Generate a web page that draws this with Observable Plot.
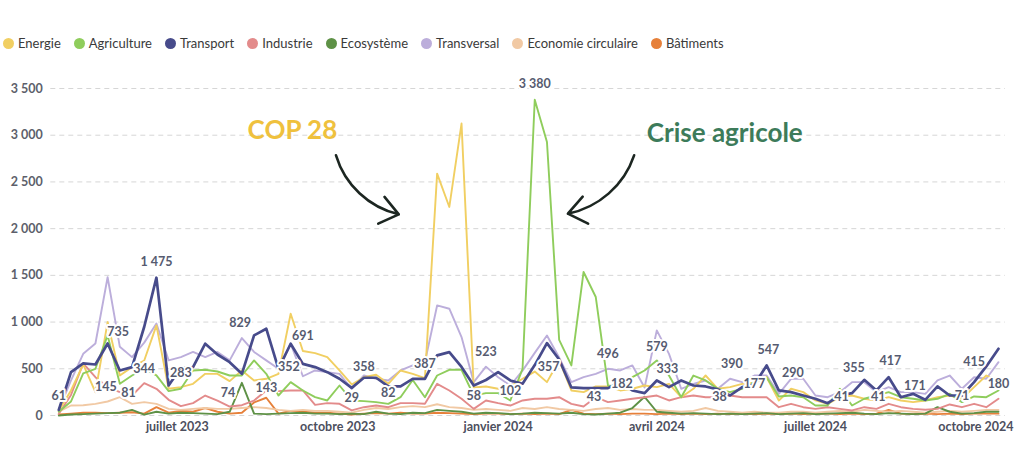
<!DOCTYPE html>
<html><head><meta charset="utf-8">
<script src="https://cdn.jsdelivr.net/npm/d3@7"></script>
<script src="https://cdn.jsdelivr.net/npm/@observablehq/plot@0.6"></script>
<style>
body{margin:0;background:#fff;font-family:Lato,sans-serif;}
#legend{height:52px;box-sizing:border-box;padding:34px 0 0 3px;display:flex;align-items:center;font-size:13px;color:#3a3a3a;line-height:18px;white-space:nowrap}
.item{display:flex;align-items:center;margin-right:13px}
.sw{width:11px;height:11px;border-radius:50%;margin-right:4px;flex:none}
</style></head><body>
<div id="legend"></div>
<div id="chart"></div>
<script>
const seriesNames = ["Energie","Agriculture","Transport","Industrie","Ecosystème","Transversal","Economie circulaire","Bâtiments"];
const seriesColors = ["#f1cf62","#8fcd5c","#474b8b","#e38b8b","#5e9146","#bcaedb","#f1c9a4","#e6803a"];
const drawOrder = ["Bâtiments","Economie circulaire","Ecosystème","Industrie","Transversal","Energie","Agriculture","Transport"];
const firstWeek = "2023-04-24";

const energie = [50,268,546,250,1000,428,518,589,964,286,304,339,446,446,368,482,375,393,446,1089,691,668,625,482,332,410,436,339,482,446,400,2589,2232,3125,300,311,286,311,393,470,357,589,268,250,311,311,268,286,321,304,339,196,286,428,286,304,339,350,410,161,286,250,161,125,196,214,179,161,196,161,143,161,196,214,179,304,428,375];
const agriculture = [40,150,450,500,857,339,428,500,430,261,286,482,489,471,428,428,589,446,214,357,268,196,161,321,161,154,143,125,196,380,196,428,489,489,214,239,239,161,500,3380,2928,810,536,1536,1268,321,304,410,482,589,428,196,428,375,286,250,286,357,410,204,214,196,107,107,286,107,179,214,250,196,179,161,179,232,143,204,196,268];
const transport = [60,464,557,546,771,482,518,950,1475,321,510,518,768,653,571,446,857,929,500,768,553,518,464,393,296,404,404,311,311,393,393,643,678,520,321,380,464,375,340,540,775,600,300,293,293,293,357,268,239,375,304,375,321,311,280,214,304,330,536,268,250,214,179,132,214,239,382,268,410,196,232,168,311,214,214,357,525,714];
const industrie = [18,220,557,410,304,250,214,346,286,168,100,132,214,160,96,110,160,268,261,268,268,114,132,125,54,89,107,89,132,132,125,339,268,179,71,161,132,107,161,179,179,196,125,96,196,143,161,179,196,214,161,196,214,196,196,214,196,196,196,89,125,89,71,89,71,54,89,71,125,89,71,61,71,118,89,125,89,179];
const ecosysteme = [0,10,15,20,25,30,60,10,40,20,30,25,20,15,40,350,20,15,20,25,30,20,20,15,20,15,40,20,15,30,25,60,50,40,20,30,25,15,20,30,25,20,30,15,10,20,30,80,200,40,30,20,25,20,15,20,15,20,25,15,20,25,15,20,25,30,20,15,25,20,15,20,89,40,20,25,40,40];
const transversal = [60,375,660,771,1480,735,625,780,985,590,625,680,625,680,590,829,680,590,500,768,420,482,464,446,286,428,393,375,482,536,571,1178,1143,839,357,523,410,321,480,670,857,620,357,410,446,500,482,536,300,911,660,286,339,375,286,393,357,428,428,232,393,393,214,196,250,357,357,250,304,250,250,232,375,428,286,410,393,571];
const ecoCirculaire = [40,107,110,125,150,196,125,143,125,71,60,71,80,71,71,80,90,80,60,50,60,50,50,40,30,60,80,70,90,100,90,120,90,80,60,70,60,50,80,70,90,70,60,50,70,80,60,70,60,60,50,40,50,80,50,40,30,40,30,30,40,40,30,40,50,40,60,50,40,50,40,30,40,50,40,50,60,60];
const batiments = [10,20,30,30,25,30,35,20,90,30,50,40,80,40,20,30,140,190,20,50,40,30,30,20,10,20,25,20,30,20,20,30,25,20,15,20,20,15,20,15,20,15,60,20,15,20,15,20,20,15,20,15,20,15,20,15,20,15,20,15,20,15,20,20,15,20,15,20,60,20,15,20,15,20,15,20,20,20];
const seriesValues = [energie, agriculture, transport, industrie, ecosysteme, transversal, ecoCirculaire, batiments];

const yTicks = [0,500,1000,1500,2000,2500,3000,3500];
const yTickLabels = ["0","500","1 000","1 500","2 000","2 500","3 000","3 500"];
const xTickDates = ["2023-07-01","2023-10-01","2024-01-01","2024-04-01","2024-07-01","2024-10-01"];
const xTickLabels = ["juillet 2023","octobre 2023","janvier 2024","avril 2024","juillet 2024","octobre 2024"];

const labelTexts = ["61","145","735","81","344","1 475","283","74","829","143","352","691","29","358","82","387","58","523","102","3 380","357","43","496","182","579","333","38","390","177","547","290","41","355","41","417","171","71","415","180"];
const labelDates = ["2023-04-24","2023-05-21","2023-05-28","2023-06-03","2023-06-12","2023-06-19","2023-07-03","2023-07-30","2023-08-06","2023-08-21","2023-09-03","2023-09-11","2023-10-09","2023-10-16","2023-10-30","2023-11-20","2023-12-18","2023-12-25","2024-01-08","2024-01-22","2024-01-30","2024-02-25","2024-03-04","2024-03-12","2024-04-01","2024-04-07","2024-05-07","2024-05-14","2024-05-27","2024-06-04","2024-06-18","2024-07-16","2024-07-23","2024-08-06","2024-08-13","2024-08-27","2024-09-23","2024-09-30","2024-10-14"];
const labelValues = [214,300,889,236,503,1639,450,236,985,289,514,846,190,514,236,546,214,678,260,3552,517,196,653,339,732,500,196,546,339,703,450,196,511,196,578,321,214,571,332];

const annotTexts = ["COP 28","Crise agricole"];
const annotDates = ["2023-09-05","2024-05-10"];
const annotValues = [3052,3020];
const annotColors = ["#efc13d","#3d7b5a"];

const arrowStart = [["2023-09-30",2785],["2024-03-19",2785]];
const arrowEnd = [["2023-11-05",2153],["2024-02-10",2160]];

const D = s => new Date(s + "T00:00:00Z");
const t0 = D(firstWeek).getTime();
const weeks = energie.map((_, i) => new Date(t0 + i * 7 * 864e5));
const colorOf = Object.fromEntries(seriesNames.map((n, k) => [n, seriesColors[k]]));
const valuesOf = Object.fromEntries(seriesNames.map((n, k) => [n, seriesValues[k]]));

// legend
const lg = document.getElementById("legend");
seriesNames.forEach((n, k) => {
  const it = document.createElement("div"); it.className = "item";
  const sw = document.createElement("span"); sw.className = "sw"; sw.style.background = seriesColors[k];
  const tx = document.createElement("span"); tx.textContent = n;
  it.appendChild(sw); it.appendChild(tx); lg.appendChild(it);
});

const lineMarks = drawOrder.map(n => Plot.line(
  valuesOf[n].map((v, i) => ({date: weeks[i], value: v})),
  {x: "date", y: "value", stroke: colorOf[n], strokeWidth: n === "Transport" ? 2.7 : 1.9, strokeLinejoin: "round"}
));

const labels = labelTexts.map((t, i) => ({t, date: D(labelDates[i]), v: labelValues[i]}));
const annots = annotTexts.map((t, i) => ({t, date: D(annotDates[i]), v: annotValues[i], c: annotColors[i]}));
const arrows = arrowStart.map((s, i) => ({x1: D(s[0]), y1: s[1], x2: D(arrowEnd[i][0]), y2: arrowEnd[i][1]}));
const xTicks = xTickDates.map(D);

const chart = Plot.plot({
  width: 1024, height: 397,
  marginLeft: 58.3, marginRight: 26, marginTop: 36, marginBottom: 34,
  x: {type: "utc", domain: [weeks[0], weeks[weeks.length - 1]]},
  y: {domain: [0, 3500]},
  style: {fontFamily: "Lato, sans-serif", background: "white", overflow: "visible"},
  marks: [
    Plot.ruleY(yTicks, {stroke: "#d6d6d6", strokeDasharray: "5,4", insetLeft: -8, insetRight: -7}),
    Plot.axisY(yTicks, {tickSize: 0, tickPadding: 16, tickFormat: d => yTickLabels[yTicks.indexOf(d)], fontSize: 12.5, fontWeight: 700, fill: "#5d5f6b"}),
    Plot.axisX(xTicks, {tickSize: 0, tickPadding: 7, tickFormat: d => xTickLabels[xTicks.findIndex(t => +t === +d)], fontSize: 12.5, fontWeight: 700, fill: "#4d4f5e"}),
    ...lineMarks,
    Plot.text(labels, {x: "date", y: "v", text: "t", fill: "#565b70", fontSize: 12.5, fontWeight: 700, stroke: "white", strokeWidth: 4}),
    Plot.text(annots, {x: "date", y: "v", text: "t", fill: "c", fontSize: 26, fontWeight: 700}),
    Plot.arrow(arrows.slice(0, 1), {x1: "x1", y1: "y1", x2: "x2", y2: "y2", bend: -30, stroke: "#1c2621", strokeWidth: 2.6, headLength: 13, headAngle: 75}),
    Plot.arrow(arrows.slice(1), {x1: "x1", y1: "y1", x2: "x2", y2: "y2", bend: 30, stroke: "#1c2621", strokeWidth: 2.6, headLength: 13, headAngle: 75})
  ]
});
document.getElementById("chart").appendChild(chart);
</script>
</body></html>
